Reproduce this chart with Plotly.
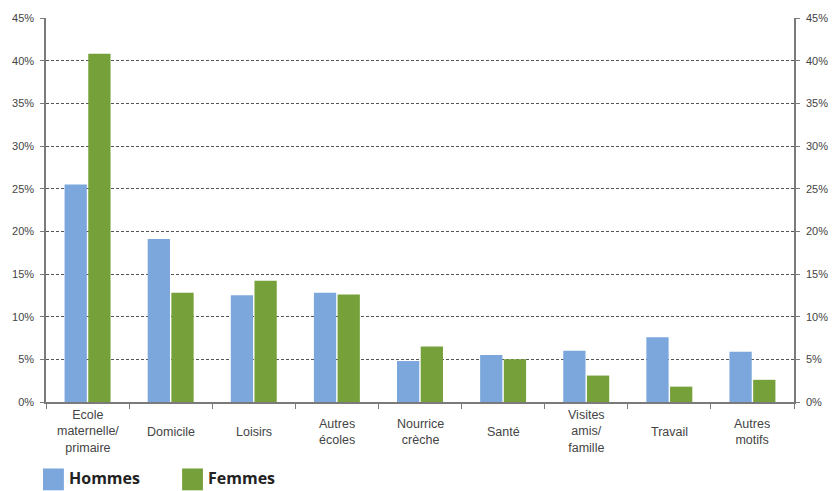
import plotly.graph_objects as go

# Motifs de déplacement (part en %)
categories = ["Ecole maternelle/primaire", "Domicile", "Loisirs", "Autres écoles",
              "Nourrice crèche", "Santé", "Visites amis/famille", "Travail", "Autres motifs"]
tick_labels = ["Ecole<br>maternelle/<br>primaire", "Domicile", "Loisirs", "Autres<br>écoles",
               "Nourrice<br>crèche", "Santé", "Visites<br>amis/<br>famille", "Travail",
               "Autres<br>motifs"]
hommes = [25.5, 19.1, 12.5, 12.8, 4.8, 5.5, 6.0, 7.6, 5.9]
femmes = [40.8, 12.8, 14.2, 12.6, 6.5, 5.0, 3.1, 1.8, 2.6]
y_ticks = [0, 5, 10, 15, 20, 25, 30, 35, 40, 45]
y_tick_text = ["0%", "5%", "10%", "15%", "20%", "25%", "30%", "35%", "40%", "45%"]
series_names = ["Hommes", "Femmes"]

BLUE = "#7BA7DC"
GREEN = "#76A13A"
AXIS = "#7a7a7a"
GRID = "#555555"
TXT = "#444444"
NARROW = "Liberation Sans Narrow, Arial Narrow, sans-serif"

fig = go.Figure()
fig.add_bar(x=categories, y=hommes, name=series_names[0], marker_color=BLUE,
            marker_line_width=0, showlegend=False)
fig.add_bar(x=categories, y=femmes, name=series_names[1], marker_color=GREEN,
            marker_line_width=0, showlegend=False)
# invisible trace carrying the right-hand axis
fig.add_scatter(x=categories, y=hommes, yaxis="y2", mode="markers",
                marker_opacity=0, showlegend=False, hoverinfo="skip")

yaxis_common = dict(
    range=[0, 45], tickmode="array", tickvals=y_ticks, ticktext=y_tick_text,
    ticks="outside", ticklen=4, tickcolor=AXIS,
    showline=True, linecolor=AXIS, linewidth=1.5,
    tickfont=dict(family=NARROW, size=11, color=TXT),
    zeroline=False, fixedrange=True, ticklabelstandoff=4,
)

fig.update_layout(
    width=840, height=491,
    margin=dict(l=43, r=44, t=15, b=89),
    paper_bgcolor="white", plot_bgcolor="white",
    barmode="group", bargap=0.43, bargroupgap=0.06,
    xaxis=dict(
        type="category", showticklabels=False,
        ticks="outside", tickson="boundaries", ticklen=5, tickcolor=AXIS,
        showline=True, linecolor=AXIS, linewidth=1.5, showgrid=False,
    ),
    yaxis=dict(**yaxis_common, showgrid=True, gridcolor=GRID, gridwidth=1,
               griddash="3px,2px"),
    yaxis2=dict(**yaxis_common, overlaying="y", side="right", showgrid=False),
)

# category labels, vertically centred under each group
for cat, lab in zip(categories, tick_labels):
    fig.add_annotation(x=cat, xref="x", y=-0.077, yref="paper", text=lab,
                       showarrow=False, yanchor="middle", align="center",
                       font=dict(family="Liberation Sans, Arial, sans-serif",
                                 size=12.5, color=TXT))

# legend: coloured squares with bold labels
legend_items = [(series_names[0], BLUE, 40), (series_names[1], GREEN, 180)]
for name, color, x0 in legend_items:
    fig.add_shape(type="rect", xref="paper", yref="paper",
                  x0=(x0 - 43) / 753, x1=(x0 + 21 - 43) / 753,
                  y0=(402 - 491) / 387, y1=(402 - 469) / 387,
                  fillcolor=color, line_width=0)
    fig.add_annotation(x=(x0 + 24 - 43) / 753, xref="paper",
                       y=(402 - 479) / 387, yref="paper", text=f"<b>{name}</b>",
                       showarrow=False, xanchor="left", yanchor="middle",
                       font=dict(family="Open Sans, sans-serif", size=16, color="#222"))

fig.write_html("out.html")
